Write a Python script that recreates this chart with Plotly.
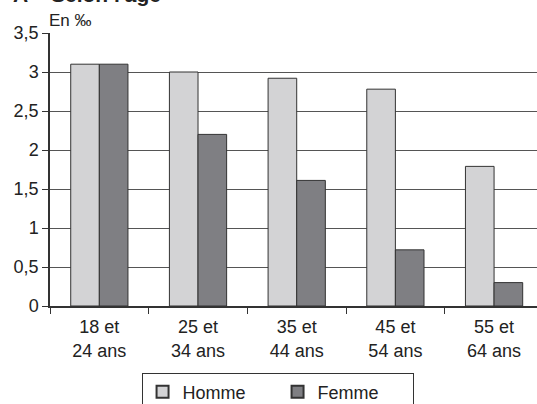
import plotly.graph_objects as go

categories = ["18 et<br>24 ans", "25 et<br>34 ans", "35 et<br>44 ans", "45 et<br>54 ans", "55 et<br>64 ans"]
homme = [3.1, 3.0, 2.92, 2.78, 1.79]
femme = [3.1, 2.2, 1.61, 0.72, 0.3]
y_ticks = [0, 0.5, 1, 1.5, 2, 2.5, 3, 3.5]
y_tick_labels = ["0", "0,5", "1", "1,5", "2", "2,5", "3", "3,5"]

FONT = "Liberation Sans, Arial, Helvetica, sans-serif"

fig = go.Figure()
fig.add_trace(go.Bar(
    x=categories, y=homme, name="Homme",
    marker=dict(color="#d3d3d5", line=dict(color="#333333", width=1)),
))
fig.add_trace(go.Bar(
    x=categories, y=femme, name="Femme",
    marker=dict(color="#7f7f83", line=dict(color="#333333", width=1)),
))

fig.update_layout(
    width=537, height=404,
    margin=dict(l=50, r=0, t=33, b=98, autoexpand=False),
    paper_bgcolor="white", plot_bgcolor="white",
    barmode="group", bargap=0.42, bargroupgap=0,
    font=dict(family=FONT, size=18, color="#222222"),
    showlegend=True,
    legend=dict(
        orientation="h", x=0.188, xanchor="left", y=-0.244, yanchor="top",
        bordercolor="#333333", borderwidth=1, bgcolor="white",
        font=dict(size=18, color="#222222"),
        entrywidth=90, entrywidthmode="pixels",
        itemsizing="constant",
    ),
    xaxis=dict(
        type="category", range=[-0.5, 4.435], automargin=False,
        tickson="boundaries", ticks="outside", ticklen=6, tickcolor="#333333",
        showline=True, linecolor="#333333", linewidth=1.5,
        showgrid=False, tickfont=dict(size=18), ticklabelstandoff=4,
    ),
    yaxis=dict(
        range=[0, 3.5], tickvals=y_ticks, ticktext=y_tick_labels, automargin=False,
        ticks="outside", ticklen=6, tickcolor="#333333",
        showline=True, linecolor="#333333", linewidth=1.5,
        showgrid=True, gridcolor="#555555", gridwidth=1,
        zeroline=False, tickfont=dict(size=18),
    ),
    annotations=[
        dict(text="En ‰", xref="paper", yref="paper", x=0, y=1,
             xanchor="left", yanchor="bottom", showarrow=False,
             font=dict(size=17, color="#222222"), xshift=-3, yshift=1),
        dict(text="<b>A</b>", xref="paper", yref="paper", x=0, y=1,
             xanchor="left", yanchor="bottom", showarrow=False,
             font=dict(size=21, color="#222222"), xshift=-39, yshift=25),
        dict(text="<b>Selon l'âge</b>", xref="paper", yref="paper", x=0, y=1,
             xanchor="left", yanchor="bottom", showarrow=False,
             font=dict(size=21, color="#222222"), xshift=-1, yshift=25),
    ],
)

fig.write_html(
    "out.html",
    post_script="document.body.style.margin='0';document.body.style.overflow='hidden';",
    config={"displayModeBar": False},
)
